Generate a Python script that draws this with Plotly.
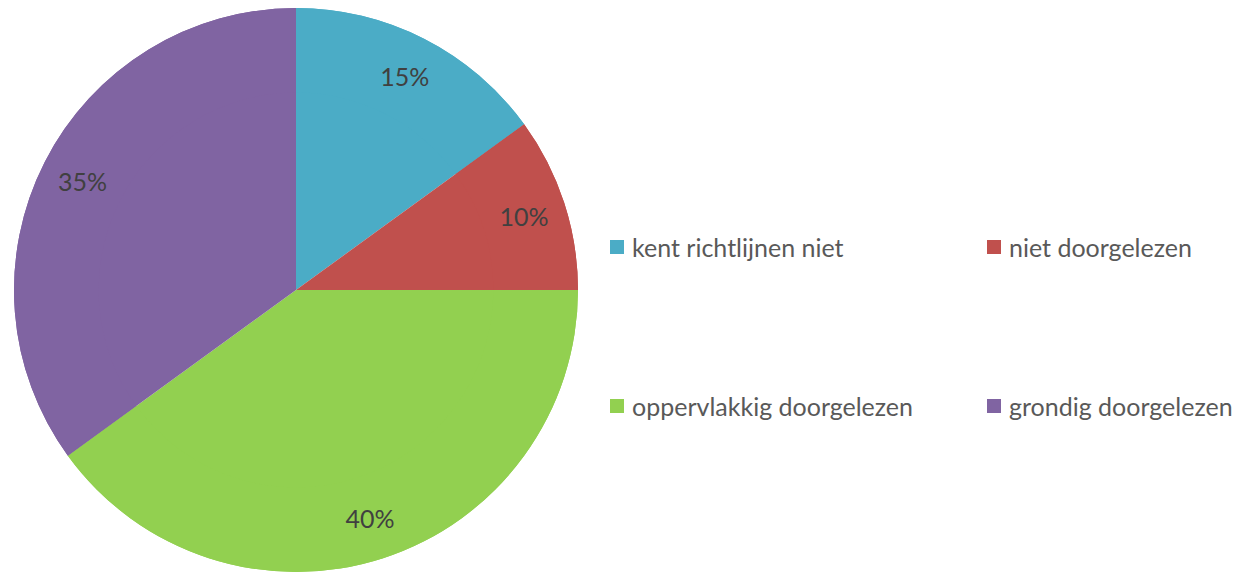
import plotly.graph_objects as go

# Data
categories = ["kent richtlijnen niet", "niet doorgelezen", "oppervlakkig doorgelezen", "grondig doorgelezen"]
values = [15, 10, 40, 35]
colors = ["#4BACC6", "#C0504D", "#92D050", "#8064A2"]

W, H = 1242, 572
OFF = 8  # page body margin offset
cx, cy, R = 296 - OFF, 290 - OFF, 282  # pie geometry in px (top-left origin of paper)

dom_x = [(cx - R) / W, (cx + R) / W]
dom_y = [max(0, (H - cy - R) / H), min(1, (H - cy + R) / H)]

fig = go.Figure()
# main pie
fig.add_trace(go.Pie(
    labels=categories, values=values, sort=False, direction="clockwise", rotation=0,
    marker=dict(colors=colors, line=dict(width=0)),
    textinfo="none", showlegend=False, domain=dict(x=dom_x, y=dom_y),
    hoverinfo="label+percent",
))
# ring overlay that places percentage labels near the rim
fig.add_trace(go.Pie(
    labels=categories, values=values, sort=False, direction="clockwise", rotation=0,
    hole=0.7,
    marker=dict(colors=colors, line=dict(width=0)),
    texttemplate="%{percent:.0%}", textposition="inside", insidetextorientation="horizontal",
    insidetextfont=dict(family="Lato", size=25, color="#404040"),
    showlegend=False, domain=dict(x=dom_x, y=dom_y),
    hoverinfo="label+percent",
))

# Legend (2 x 2 grid)
col_x = [610 - OFF, 987 - OFF]
row_y = [247 - OFF, 406 - OFF]
sq = 14
shapes = []
annotations = []
for i, (name, col) in enumerate(zip(categories, colors)):
    x0 = col_x[i % 2]
    yc = row_y[i // 2]
    shapes.append(dict(type="rect", xref="paper", yref="paper",
                       x0=x0 / W, x1=(x0 + sq) / W,
                       y0=(H - yc - sq / 2) / H, y1=(H - yc + sq / 2) / H,
                       fillcolor=col, line=dict(width=0)))
    annotations.append(dict(text=name, xref="paper", yref="paper",
                            x=(x0 + sq + 6) / W, y=(H - yc) / H,
                            xanchor="left", yanchor="middle", showarrow=False,
                            font=dict(family="Lato", size=25, color="#595959")))

fig.update_layout(
    width=W, height=H,
    margin=dict(l=0, r=0, t=0, b=0),
    paper_bgcolor="white", plot_bgcolor="white",
    shapes=shapes, annotations=annotations,
    showlegend=False,
)

fig.write_html("out.html")
